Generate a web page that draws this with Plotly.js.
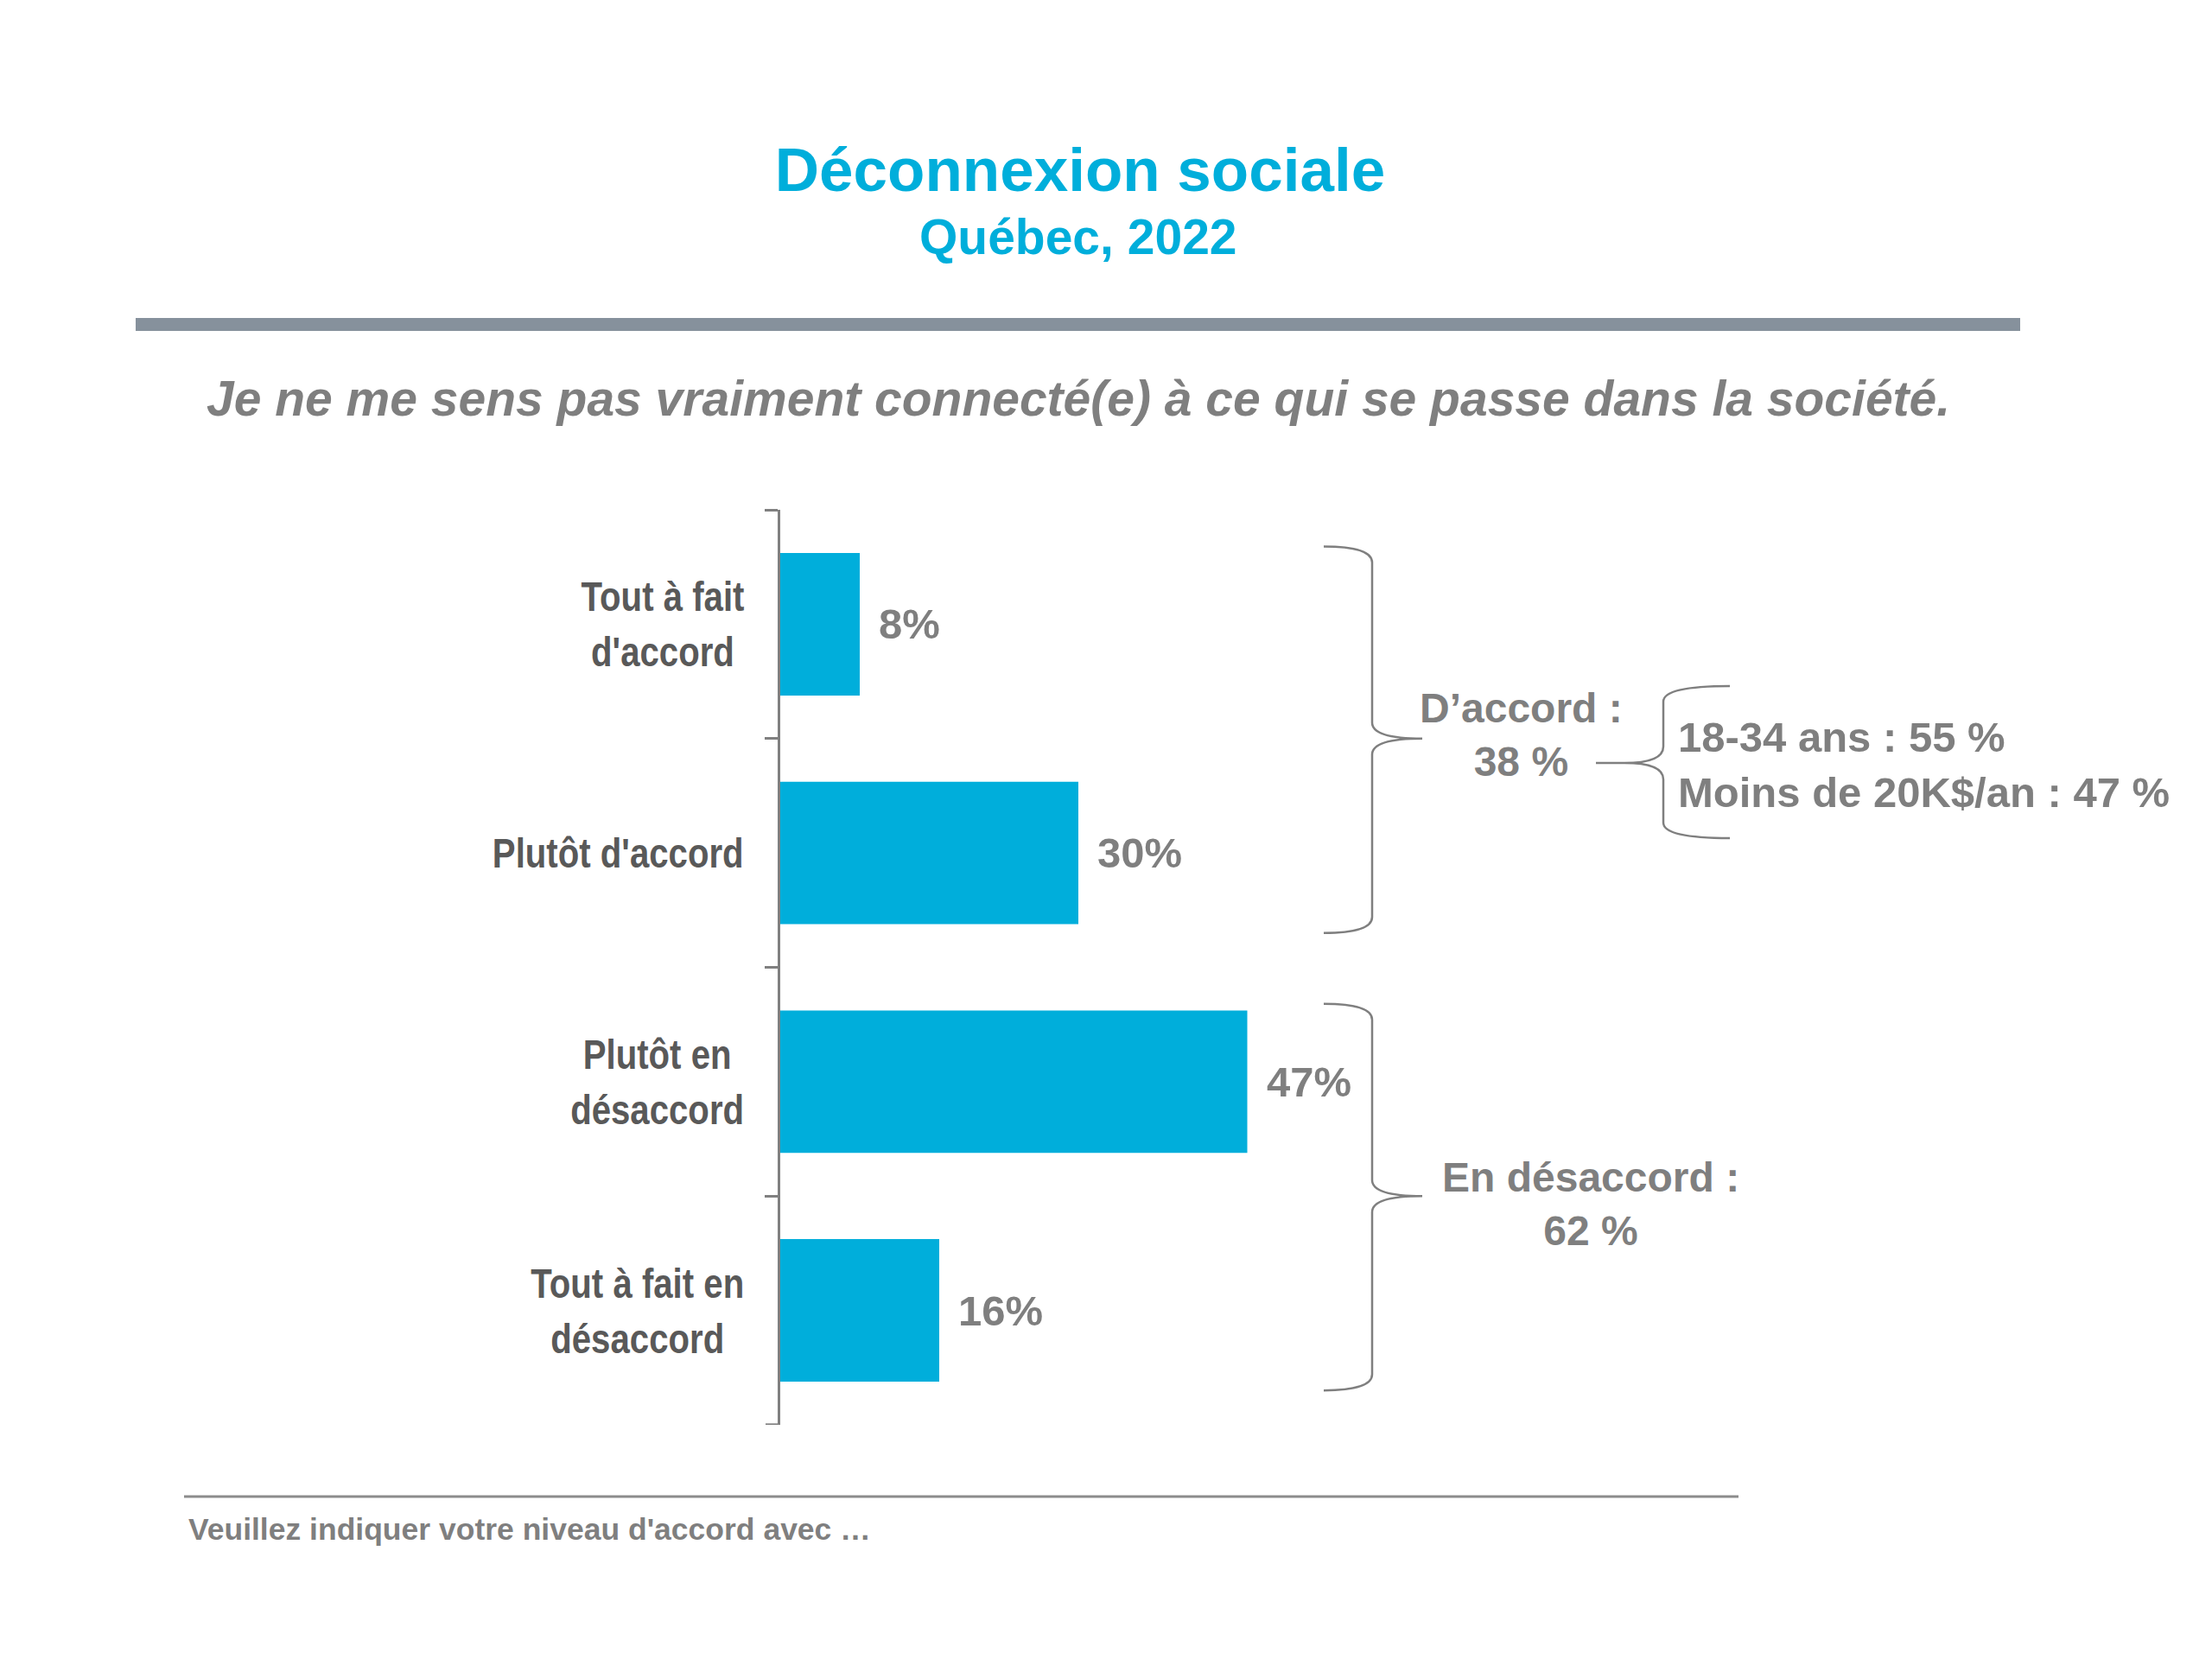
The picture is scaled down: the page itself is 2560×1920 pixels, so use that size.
<!DOCTYPE html>
<html>
<head>
<meta charset="utf-8">
<script src="https://cdn.plot.ly/plotly-3.0.1.min.js"></script>
<style>
  html, body { margin: 0; padding: 0; background: #ffffff; }
  #chart { width: 2560px; height: 1920px; }
</style>
</head>
<body>
<div id="chart"></div>
<script>
// ---------- Data ----------
const categories = ["Tout à fait d'accord", "Plutôt d'accord", "Plutôt en désaccord", "Tout à fait en désaccord"];
const categoryLabels = ["Tout à fait<br>d'accord", "Plutôt d'accord", "Plutôt en<br>désaccord", "Tout à fait en<br>désaccord"];
const values = [8, 30, 47, 16];
const groupNames = ["D’accord :", "En désaccord :"];
const groupTotals = [38, 62];
const groupSpans = [[0, 1], [2, 3]];
const subLabels = ["18-34 ans : 55 %", "Moins de 20K$/an : 47 %"];
const titleText = "Déconnexion sociale";
const subtitleText = "Québec, 2022";
const questionText = "Je ne me sens pas vraiment connecté(e) à ce qui se passe dans la société.";
const footnoteText = "Veuillez indiquer votre niveau d'accord avec …";

// ---------- Layout geometry ----------
const W = 2560, H = 1920;
const L = 903, R = 507, T = 590, B = 271;
const plotW = W - L - R, plotH = H - T - B;
const px = x => (x - L) / plotW;
const py = y => (H - B - y) / plotH;

const SANS = '"Liberation Sans", Arial, sans-serif';
const GRAY = '#7F7F7F';
const CYAN = '#00AEDB';

function pathFromPixels(cmds) {
  return cmds.map(c => {
    const op = c[0];
    const pts = [];
    for (let i = 1; i < c.length; i += 2) pts.push(px(c[i]).toFixed(5) + ',' + py(c[i + 1]).toFixed(5));
    return op + ' ' + pts.join(' ');
  }).join(' ');
}

// ---------- Traces ----------
const trace = {
  type: 'bar',
  orientation: 'h',
  x: values,
  y: categories,
  marker: { color: CYAN },
  hoverinfo: 'none'
};

// ---------- Annotations ----------
const annotations = [];

// category labels (centred multi-line, right edge next to axis) - indices 0..3
categories.forEach((c, i) => {
  annotations.push({
    xref: 'paper', yref: 'y', x: px(863), y: c,
    xanchor: 'right', yanchor: 'middle', align: 'center',
    text: categoryLabels[i], showarrow: false,
    font: { family: SANS, size: 49, color: '#595959', weight: 'bold' }
  });
});

// value labels
categories.forEach((c, i) => {
  annotations.push({
    xref: 'x', yref: 'y', x: values[i], y: c,
    xanchor: 'left', yanchor: 'middle', xshift: 20,
    text: values[i] + '%', showarrow: false,
    font: { family: SANS, size: 49, color: GRAY, weight: 'bold' }
  });
});

// group totals
const groupTextPos = [[1760, 850], [1841, 1393]];
groupNames.forEach((g, i) => {
  annotations.push({
    xref: 'paper', yref: 'paper', x: px(groupTextPos[i][0]), y: py(groupTextPos[i][1]),
    xanchor: 'center', yanchor: 'middle', align: 'center',
    text: g + '<br>' + groupTotals[i] + ' %', showarrow: false,
    font: { family: SANS, size: 48, color: GRAY, weight: 'bold' }
  });
});

// sub-group details
annotations.push({
  xref: 'paper', yref: 'paper', x: px(1940), y: py(885),
  xanchor: 'left', yanchor: 'middle', align: 'left',
  text: subLabels.join('<br>'), showarrow: false,
  font: { family: SANS, size: 49, color: GRAY, weight: 'bold' }
});

// subtitle, question, footnote
annotations.push({
  xref: 'paper', yref: 'paper', x: px(1248), y: py(274),
  xanchor: 'center', yanchor: 'middle',
  text: subtitleText, showarrow: false,
  font: { family: SANS, size: 57, color: CYAN, weight: 'bold' }
});
annotations.push({
  xref: 'paper', yref: 'paper', x: px(1248), y: py(461),
  xanchor: 'center', yanchor: 'middle',
  text: questionText, showarrow: false,
  font: { family: SANS, size: 57, color: GRAY, weight: 'bold', style: 'italic' }
});
annotations.push({
  xref: 'paper', yref: 'paper', x: px(216), y: py(1770),
  xanchor: 'left', yanchor: 'middle',
  text: footnoteText, showarrow: false,
  font: { family: SANS, size: 35.5, color: GRAY, weight: 'bold' }
});

// ---------- Shapes ----------
const shapes = [];
// thick rule under title
shapes.push({ type: 'line', xref: 'paper', yref: 'paper', x0: px(157), x1: px(2338), y0: py(375.5), y1: py(375.5),
  line: { color: '#86919C', width: 15 } });
// footer rule
shapes.push({ type: 'line', xref: 'paper', yref: 'paper', x0: px(213), x1: px(2012), y0: py(1732), y1: py(1732),
  line: { color: '#8C8C8C', width: 3 } });
// closing tick at the last category boundary
shapes.push({ type: 'line', xref: 'paper', yref: 'y', x0: px(886), x1: px(903),
  y0: categories.length - 0.5, y1: categories.length - 0.5,
  line: { color: '#808080', width: 3 } });

// big right-facing brackets spanning category groups
const xa = px(1532), xv = px(1588), xt = px(1646);
const d = 0.07;
groupSpans.forEach(([a, b]) => {
  const y0 = a - 0.34, y1 = b + 0.35, ym = (a + b) / 2;
  const f = v => v.toFixed(5);
  const path = `M ${f(xa)},${f(y0)} Q ${f(xv)},${f(y0)} ${f(xv)},${f(y0 + d)} ` +
    `L ${f(xv)},${f(ym - d)} Q ${f(xv)},${f(ym)} ${f(xt)},${f(ym)} ` +
    `Q ${f(xv)},${f(ym)} ${f(xv)},${f(ym + d)} ` +
    `L ${f(xv)},${f(y1 - d)} Q ${f(xv)},${f(y1)} ${f(xa)},${f(y1)}`;
  shapes.push({ type: 'path', xref: 'paper', yref: 'y', path: path, line: { color: GRAY, width: 2.5 } });
});

// small left-facing brace for the sub-group details
shapes.push({
  type: 'path', xref: 'paper', yref: 'paper',
  path: pathFromPixels([
    ['M', 2002, 794], ['Q', 1925, 794, 1925, 812], ['L', 1925, 864], ['Q', 1925, 883, 1880, 883], ['L', 1847, 883],
    ['M', 1880, 883], ['Q', 1925, 883, 1925, 902], ['L', 1925, 952], ['Q', 1925, 970, 2002, 970]
  ]),
  line: { color: GRAY, width: 2.5 }
});

// ---------- Layout ----------
const layout = {
  width: W, height: H,
  margin: { l: L, r: R, t: T, b: B, pad: 0 },
  paper_bgcolor: '#ffffff', plot_bgcolor: '#ffffff',
  showlegend: false,
  bargap: 0.377,
  title: {
    text: titleText,
    xref: 'container', yref: 'container',
    x: 1250 / W, y: 1 - 196 / H, xanchor: 'center', yanchor: 'middle',
    font: { family: SANS, size: 71, color: CYAN, weight: 'bold' }
  },
  xaxis: { range: [0, 100], visible: false, fixedrange: true },
  yaxis: {
    type: 'category',
    categoryorder: 'array', categoryarray: categories,
    range: [3.5006, -0.5006],
    showticklabels: false,
    showline: true, linecolor: '#808080', linewidth: 3,
    ticks: 'outside', tickson: 'boundaries', ticklen: 15, tickwidth: 3, tickcolor: '#808080',
    showgrid: false, zeroline: false, automargin: false, fixedrange: true
  },
  annotations: annotations,
  shapes: shapes
};

Plotly.newPlot('chart', [trace], layout, { displayModeBar: false, staticPlot: true }).then(gd => {
  // narrow (condensed) look for the category labels, anchored at their right edge
  for (let i = 0; i < categories.length; i++) {
    const t = gd.querySelector('.annotation[data-index="' + i + '"] text.annotation-text');
    if (t) {
      t.style.transformBox = 'fill-box';
      t.style.transformOrigin = 'right center';
      t.style.transform = 'scaleX(0.82)';
    }
  }
});
</script>
</body>
</html>
